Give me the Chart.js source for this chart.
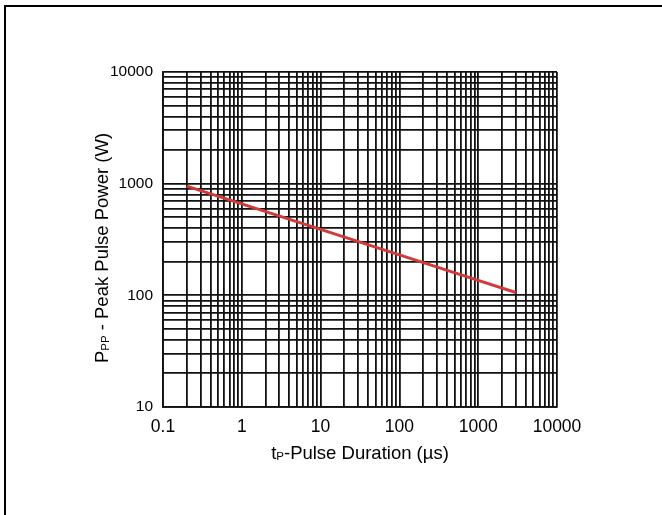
<!DOCTYPE html>
<html>
<head>
<meta charset="utf-8">
<script src="https://cdn.jsdelivr.net/npm/chart.js@4"></script>
<style>
  body { margin: 0; background: #fff; }
  #wrap { position: relative; width: 662px; height: 515px; }
  #frame { position: absolute; left: 4px; top: 5px; right: 0; bottom: 0; border-left: 2px solid #000; border-top: 2px solid #000; }
  canvas { position: absolute; left: 0; top: 0; }
</style>
</head>
<body>
<div id="wrap">
  <div id="frame"></div>
  <canvas id="pulse-chart" width="662" height="515"></canvas>
</div>
<script>
// values
const durations = [0.2, 1, 10, 100, 1000, 3000];
const peakPower = [950, 660, 390, 230, 136, 106];

const xTickLabels = ['0.1', '1', '10', '100', '1000', '10000'];
const yTickLabels = ['10', '100', '1000', '10000'];
const minorSteps = [1, 2, 3, 4, 5, 6, 7, 8, 9];

const FONT = '"Liberation Sans", Arial, Helvetica, sans-serif';

// every 1..9 grid line between the labelled decades
function gridValues(labels) {
  const decades = labels.map(Number);
  const values = [];
  decades.forEach((d, i) => {
    if (i === decades.length - 1) {
      values.push(d);
    } else {
      minorSteps.forEach((s) => values.push(+(d * s).toPrecision(6)));
    }
  });
  return values;
}

function decadeLabel(labels) {
  return function (value) {
    const hit = labels.find((l) => Math.abs(Number(l) - value) / value < 1e-6);
    return hit === undefined ? '' : hit;
  };
}

// draws text runs like [['t', 18], ['P', 11, 2]] (text, size, drop); y is the baseline
function drawRuns(ctx, runs, x, y, rotate) {
  ctx.save();
  ctx.translate(x, y);
  if (rotate) ctx.rotate(-Math.PI / 2);
  ctx.fillStyle = '#000';
  ctx.textBaseline = 'alphabetic';
  ctx.textAlign = 'left';
  let total = 0;
  runs.forEach((r) => {
    ctx.font = r[1] + 'px ' + FONT;
    total += ctx.measureText(r[0]).width;
  });
  let cx = -total / 2;
  runs.forEach((r) => {
    ctx.font = r[1] + 'px ' + FONT;
    ctx.fillText(r[0], cx, r[2] || 0);
    cx += ctx.measureText(r[0]).width;
  });
  ctx.restore();
}

const axisTitles = {
  id: 'axisTitles',
  afterDraw(chart) {
    const ctx = chart.ctx;
    const area = chart.chartArea;
    drawRuns(ctx, [['t', 18.5], ['P', 11.5, 1], ['-Pulse Duration (µs)', 18.5]],
      (area.left + area.right) / 2, 459, false);
    drawRuns(ctx, [['P', 18.5], ['PP', 11.5, 1], [' - Peak Pulse Power (W)', 18.5]],
      108, 248, true);
  },
};

new Chart(document.getElementById('pulse-chart'), {
  type: 'line',
  data: {
    datasets: [
      {
        data: durations.map((d, i) => ({ x: d, y: peakPower[i] })),
        borderColor: '#d23a3a',
        borderWidth: 3,
        pointRadius: 0,
        tension: 0,
      },
    ],
  },
  options: {
    responsive: false,
    animation: false,
    layout: {
      padding: { top: 72, right: 105, left: 0, bottom: 0 },
    },
    scales: {
      x: {
        type: 'logarithmic',
        min: 0.1,
        max: 10000,
        afterBuildTicks: (scale) => {
          scale.ticks = gridValues(xTickLabels).map((v) => ({ value: v }));
        },
        afterFit: (scale) => {
          scale.height = 108;
        },
        ticks: {
          autoSkip: false,
          maxRotation: 0,
          padding: 10,
          color: '#000',
          font: { family: FONT, size: 17.5 },
          callback: decadeLabel(xTickLabels),
        },
        grid: {
          color: '#111',
          lineWidth: 1.8,
          drawTicks: false,
        },
        border: { color: '#111', width: 1.8 },
      },
      y: {
        type: 'logarithmic',
        min: 10,
        max: 10000,
        afterBuildTicks: (scale) => {
          scale.ticks = gridValues(yTickLabels).map((v) => ({ value: v }));
        },
        afterFit: (scale) => {
          scale.width = 163;
        },
        ticks: {
          autoSkip: false,
          padding: 10,
          color: '#000',
          font: { family: FONT, size: 15.5 },
          callback: decadeLabel(yTickLabels),
        },
        grid: {
          color: '#111',
          lineWidth: 1.8,
          drawTicks: false,
        },
        border: { color: '#111', width: 1.8 },
      },
    },
    plugins: {
      legend: { display: false },
      tooltip: { enabled: false },
    },
  },
  plugins: [axisTitles],
});
</script>
</body>
</html>
